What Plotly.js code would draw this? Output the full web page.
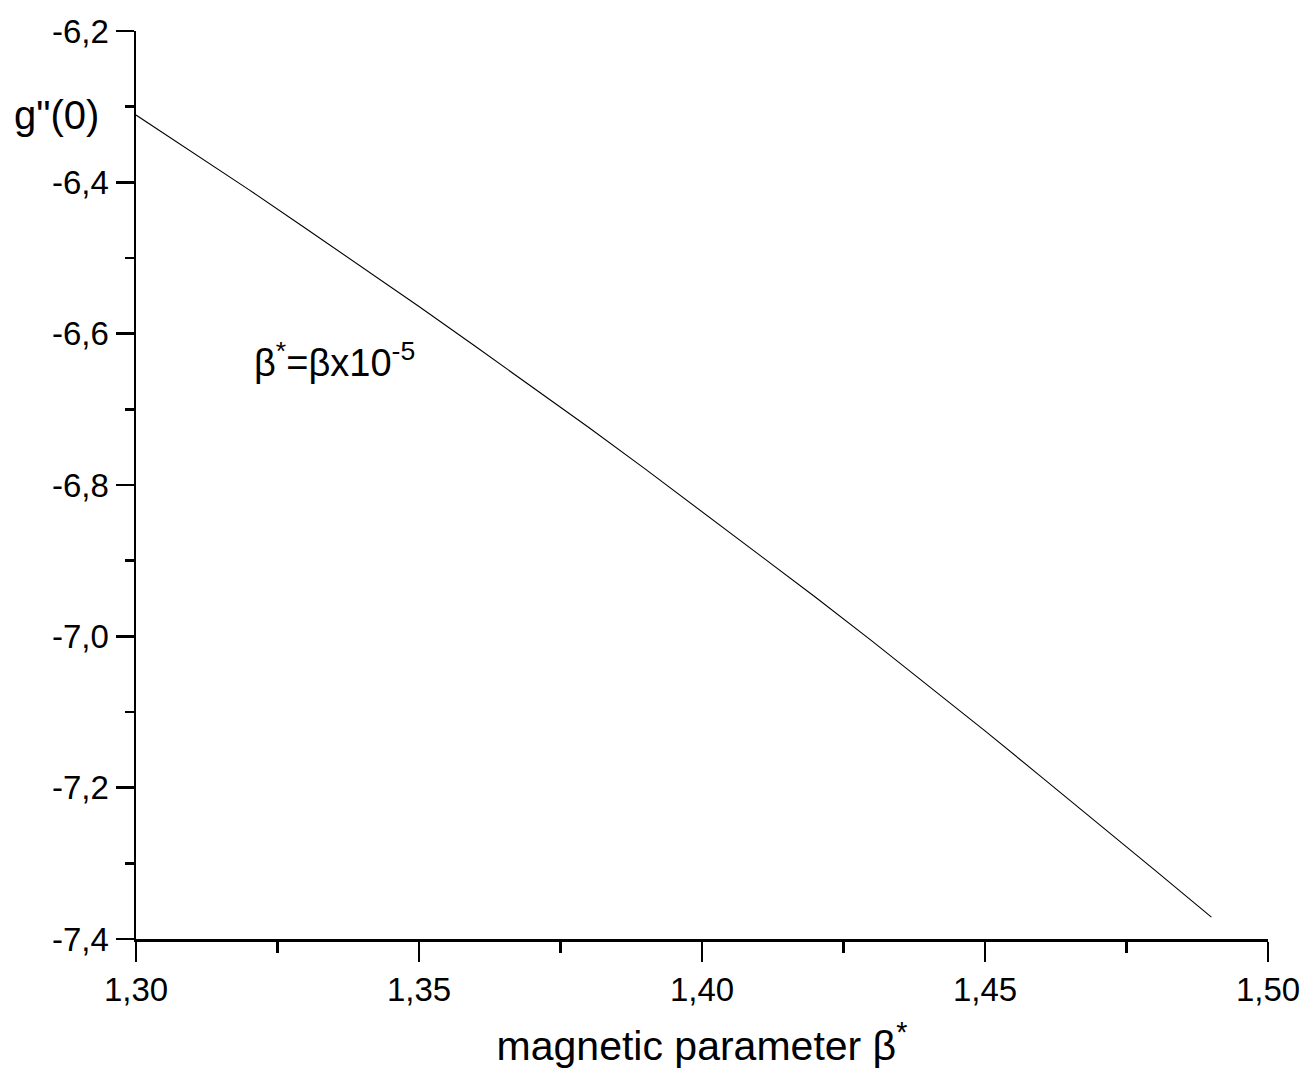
<!DOCTYPE html>
<html>
<head>
<meta charset="utf-8">
<script src="https://cdn.plot.ly/plotly-3.0.1.min.js"></script>
<style>html,body{margin:0;padding:0;background:#fff;}#chart{width:1309px;height:1077px;}</style>
</head>
<body>
<div id="chart"></div>
<script>
// magnetic parameter beta* values
var betaStar = [1.30,1.31,1.32,1.33,1.34,1.35,1.36,1.37,1.38,1.39,1.40,1.41,1.42,1.43,1.44,1.45,1.46,1.47,1.48,1.49];
// g''(0) values
var gpp0 = [-6.311,-6.360,-6.410,-6.461,-6.512,-6.564,-6.617,-6.670,-6.724,-6.779,-6.835,-6.891,-6.948,-7.006,-7.065,-7.125,-7.186,-7.247,-7.309,-7.371];

var xTickVals = [1.30,1.35,1.40,1.45,1.50];
var xTickText = ["1,30","1,35","1,40","1,45","1,50"];
var yTickVals = [-6.2,-6.4,-6.6,-6.8,-7.0,-7.2,-7.4];
var yTickText = ["-6,2","-6,4","-6,6","-6,8","-7,0","-7,2","-7,4"];

var trace = {
  x: betaStar, y: gpp0, type: 'scatter', mode: 'lines',
  line: {color: '#000', width: 1.1}, hoverinfo: 'skip'
};

var FONT = '"Liberation Sans", Arial, sans-serif';

var layout = {
  width: 1309, height: 1077,
  margin: {l: 136, r: 41, t: 31, b: 138},
  paper_bgcolor: '#fff', plot_bgcolor: '#fff',
  showlegend: false,
  font: {family: FONT, color: '#000', size: 30},
  xaxis: {
    range: [1.30, 1.50], showgrid: false, zeroline: false,
    showline: true, linecolor: '#000', linewidth: 2.5,
    ticks: 'outside', ticklen: 20, tickwidth: 2.5, tickcolor: '#000',
    tickmode: 'array', tickvals: xTickVals, ticktext: xTickText,
    tickfont: {size: 33, family: FONT, color: '#000'},
    minor: {dtick: 0.025, tick0: 1.30, ticks: 'outside', ticklen: 11, tickwidth: 2.5, tickcolor: '#000', showgrid: false},
    title: {text: 'magnetic parameter β<sup>*</sup>', font: {size: 41, family: FONT, color: '#000'}, standoff: 24}
  },
  yaxis: {
    range: [-7.4, -6.2], showgrid: false, zeroline: false,
    showline: true, linecolor: '#000', linewidth: 2.5,
    ticks: 'outside', ticklen: 18, tickwidth: 2.5, tickcolor: '#000',
    tickmode: 'array', tickvals: yTickVals, ticktext: yTickText,
    tickfont: {size: 33, family: FONT, color: '#000'},
    minor: {dtick: 0.1, tick0: -7.4, ticks: 'outside', ticklen: 9, tickwidth: 2.5, tickcolor: '#000', showgrid: false}
  },
  annotations: [
    {xref: 'paper', yref: 'paper', x: -0.1095, y: 0.9075, xanchor: 'left', yanchor: 'middle',
     text: 'g"(0)', showarrow: false, font: {size: 40, family: FONT, color: '#000'}},
    {xref: 'x', yref: 'y', x: 1.3205, y: -6.635, xanchor: 'left', yanchor: 'middle',
     text: 'β<sup>*</sup>=βx10<sup>-5</sup>', showarrow: false, font: {size: 38, family: FONT, color: '#000'}}
  ]
};

Plotly.newPlot('chart', [trace], layout, {displayModeBar: false, staticPlot: true});
</script>
</body>
</html>
